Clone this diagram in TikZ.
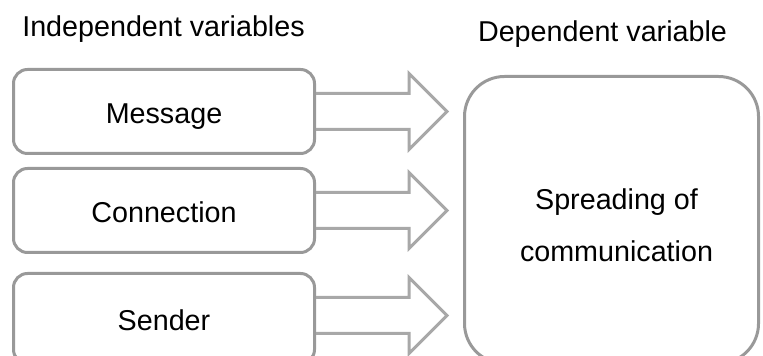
\documentclass[tikz,border=0pt]{standalone}
\usepackage{fontspec}
\setmainfont{Liberation Sans}
\usepackage{xcolor}
\usetikzlibrary{positioning,calc}

\definecolor{boxgray}{HTML}{999999}
\definecolor{arrowgray}{HTML}{A8A8A8}

\begin{document}
\begin{tikzpicture}[x=0.5pt, y=-0.5pt, font=\fontsize{14.35}{26}\selectfont]
    \tikzstyle{varbox} = [rectangle, rounded corners=7pt, draw=boxgray, line width=1.5pt, minimum width=150.5pt, minimum height=42pt, text height=12pt, text depth=0pt, inner sep=0pt]
    \tikzstyle{bigbox} = [rectangle, rounded corners=20pt, draw=boxgray, line width=1.5pt, minimum width=147pt, minimum height=143.5pt]
    \tikzstyle{heading} = [anchor=base, inner sep=0pt]
    \tikzstyle{blockarrow} = [draw=arrowgray, line width=1.5pt]

    \useasboundingbox (0,0) rectangle (763,356);

    % Headings
    \node[heading] (indep) at (163.5,37) {Independent variables};
    \node[heading] (dep) at (602.5,42) {Dependent variable};

    % Boxes
    \node[varbox] (msg) at (164,111.5) {Message};
    \node[varbox] (conn) [below=6pt of msg] {Connection};
    \node[varbox, minimum height=45pt] (send) [below=9pt of conn] {Sender};
    \node[bigbox] (spread) at (611.5,220) {};
    \node[align=center, inner sep=0pt] (spreadtext) at ([xshift=2.5pt, yshift=-2.75pt]spread.center) {Spreading of\\communication};

    % Arrows
    \foreach \src in {msg,conn}
        \draw[blockarrow] ($(\src.east)+(0,-18)$) -- ++(93,0) -- ++(0,-20) -- ++(38,38) -- ++(-38,38) -- ++(0,-20) -- ++(-93,0);
    \draw[blockarrow] ($(send.east)+(0,-21)$) -- ++(93,0) -- ++(0,-20) -- ++(38,38) -- ++(-38,38) -- ++(0,-20) -- ++(-93,0);
\end{tikzpicture}
\end{document}
